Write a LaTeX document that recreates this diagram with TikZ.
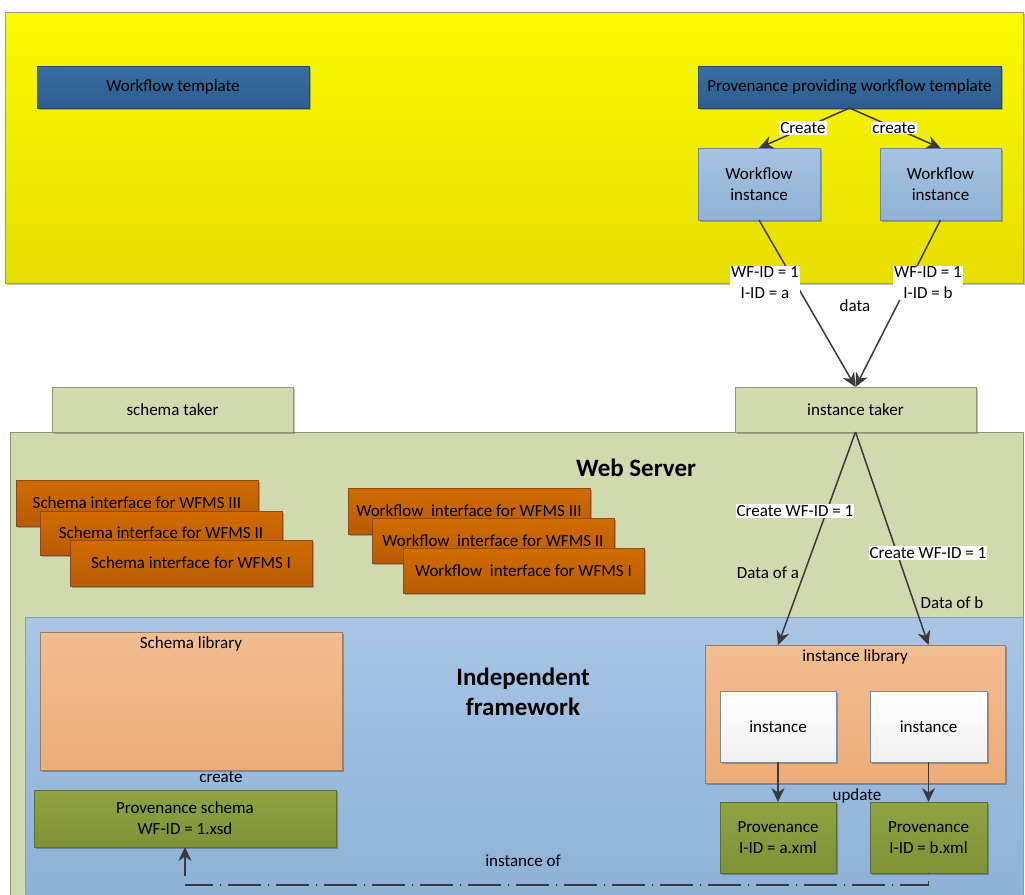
\documentclass[tikz,border=0pt]{standalone}
\usepackage{fontspec}
\setmainfont{Carlito}
\usetikzlibrary{arrows.meta,shadows}

\definecolor{yelTop}{HTML}{FAFA00}
\definecolor{yelBot}{HTML}{E6DE00}
\definecolor{dblTop}{HTML}{3A6FA3}
\definecolor{dblBot}{HTML}{2C5D8E}
\definecolor{dblLine}{HTML}{24496E}
\definecolor{lblTop}{HTML}{A6C3E0}
\definecolor{lblBot}{HTML}{90B2D5}
\definecolor{lblLine}{HTML}{6C8CAE}
\definecolor{sage}{HTML}{D1D9AF}
\definecolor{sageLine}{HTML}{8E9477}
\definecolor{orTop}{HTML}{D26C00}
\definecolor{orBot}{HTML}{B75B05}
\definecolor{orLine}{HTML}{8A4C18}
\definecolor{fwTop}{HTML}{A8C5E4}
\definecolor{fwBot}{HTML}{8DB1D7}
\definecolor{fwLine}{HTML}{7F9FC0}
\definecolor{salTop}{HTML}{F2BD92}
\definecolor{salBot}{HTML}{ECAC78}
\definecolor{salLine}{HTML}{9C7D64}
\definecolor{grTop}{HTML}{8FA343}
\definecolor{grBot}{HTML}{7E9236}
\definecolor{grLine}{HTML}{5F6E33}
\definecolor{arrowGray}{HTML}{3A3A3A}

\tikzset{
  every node/.style={inner sep=0pt, outer sep=0pt},
  shadowed/.style={drop shadow={shadow xshift=2pt, shadow yshift=-2pt, opacity=0.25, fill=black}},
  frame/.style={draw=#1, line width=0.8pt},
  darkbox/.style={frame=dblLine, top color=dblTop, bottom color=dblBot, shadowed},
  wfbox/.style={frame=lblLine, top color=lblTop, bottom color=lblBot, align=center, shadowed},
  takerbox/.style={frame=sageLine, fill=sage, shadowed},
  ifbox/.style={frame=orLine, top color=orTop, bottom color=orBot, shadowed},
  libbox/.style={frame=salLine, top color=salTop, bottom color=salBot, shadowed},
  instbox/.style={frame=lblLine, top color=white, bottom color=black!6, shadowed},
  provbox/.style={frame=grLine, top color=grTop, bottom color=grBot, align=center, shadowed},
  conn/.style={draw=arrowGray, line width=1.5pt, -{Stealth[length=14pt,width=13pt,inset=4.5pt]}},
  tag/.style={fill=white, inner sep=1pt, align=center},
  title/.style={font=\fontsize{25}{30}\selectfont\bfseries, align=center},
}

\begin{document}
\begin{tikzpicture}[x=1pt, y=-1pt, font=\fontsize{17}{21}\selectfont]
  \useasboundingbox (0,0) rectangle (1025,894);
  \fill[white] (0,0) rectangle (1025,894);

  % workflow design area
  \node[frame=black!40, top color=yelTop, bottom color=yelBot, shadowed,
        minimum width=1018pt, minimum height=271pt] (design) at (514,147.5) {};
  \node[darkbox, minimum width=272pt, minimum height=42pt] (wft) at (173,87) {Workflow template};
  \node[darkbox, minimum width=303pt, minimum height=42pt] (ppwt) at (849.5,87) {Provenance providing workflow template};
  \node[wfbox, minimum width=122pt, minimum height=72pt] (wi1) at (759,184) {Workflow\\instance};
  \node[wfbox, minimum width=121pt, minimum height=72pt] (wi2) at (940.5,184) {Workflow\\instance};

  % web server
  \node[frame=sageLine, fill=sage, minimum width=1013pt, minimum height=468pt] (server) at (516.5,666) {};
  \node[title] (servertitle) at (636,468) {Web Server};
  \node[takerbox, minimum width=241pt, minimum height=45pt] (stk) at (172.5,409.5) {schema taker};
  \node[takerbox, minimum width=241pt, minimum height=45pt] (itk) at (855.5,409.5) {instance taker};

  % schema interfaces
  \node[ifbox, minimum width=242pt, minimum height=46pt] (si3) at (137,503) {Schema interface for WFMS III};
  \node[ifbox, minimum width=242pt, minimum height=44pt] (si2) at (161,533) {Schema interface for WFMS II};
  \node[ifbox, minimum width=242pt, minimum height=46pt] (si1) at (191,563) {Schema interface for WFMS I};

  % workflow interfaces
  \node[ifbox, minimum width=242pt, minimum height=46pt] (wfi3) at (469,511) {Workflow~ interface for WFMS III};
  \node[ifbox, minimum width=242pt, minimum height=45pt] (wfi2) at (493,540.5) {Workflow~ interface for WFMS II};
  \node[ifbox, minimum width=241pt, minimum height=45pt] (wfi1) at (523.5,570.5) {Workflow~ interface for WFMS I};

  % independent framework
  \node[frame=fwLine, top color=fwTop, bottom color=fwBot, minimum width=998pt, minimum height=283pt] (framework) at (524,758.5) {};
  \node[title] (fwtitle) at (523,692) {Independent\\framework};

  \node[libbox, minimum width=302pt, minimum height=138pt,
        label={[anchor=north, yshift=-5pt]north:Schema library}] (slib) at (191,701) {};
  \node (createtxt) at (221,777) {create};
  \node[provbox, minimum width=302pt, minimum height=57pt] (pschema) at (185,818.5) {Provenance schema\\WF-ID = 1.xsd};

  \node[libbox, minimum width=300pt, minimum height=138pt,
        label={[anchor=north, yshift=-5pt]north:instance library}] (ilib) at (855,714) {};
  \node[instbox, minimum width=116pt, minimum height=71pt] (inst1) at (778,726.5) {instance};
  \node[instbox, minimum width=117pt, minimum height=71pt] (inst2) at (928.5,726.5) {instance};
  \node[provbox, minimum width=116pt, minimum height=71pt] (prova) at (778,837.5) {Provenance\\I-ID = a.xml};
  \node[provbox, minimum width=117pt, minimum height=71pt] (provb) at (928.5,837.5) {Provenance\\I-ID = b.xml};
  \node (updatetxt) at (857,796) {update};
  \node (instoftxt) at (523,861) {instance of};

  % connectors
  \draw[conn] (ppwt.south) -- (wi1.north);
  \draw[conn] (ppwt.south) -- (wi2.north);
  \node[tag] (createL) at (803,128) {Create};
  \node[tag] (createR) at (894,128) {create};

  \draw[conn] (wi1.south) -- (itk.north);
  \draw[conn] (wi2.south) -- (itk.north);
  \node[tag] (idA) at (765,283) {WF-ID = 1\\I-ID = a};
  \node[tag] (idB) at (928,283) {WF-ID = 1\\I-ID = b};
  \node (datatxt) at (855,306) {data};

  \draw[conn] (itk.south) -- (inst1 |- ilib.north);
  \draw[conn] (itk.south) -- (inst2 |- ilib.north);
  \node[tag] (cwfA) at (795,511) {Create WF-ID = 1};
  \node (dataA) at (768,573) {Data of a};
  \node[tag] (cwfB) at (928,553) {Create WF-ID = 1};
  \node (dataB) at (952,603) {Data of b};

  \draw[conn] (inst1.south) -- (prova.north);
  \draw[conn] (inst2.south) -- (provb.north);

  \coordinate (dashcorner) at (928.5,885);
  \coordinate (dashend) at (185,885);
  \coordinate (upstart) at (185,876);
  \draw[draw=arrowGray, line width=1.3pt, dash pattern=on 1pt off 7pt on 33pt off 7pt]
    (provb.south) -- (dashcorner) -- (dashend);
  \draw[conn] (upstart) -- (pschema.south);
\end{tikzpicture}
\end{document}
